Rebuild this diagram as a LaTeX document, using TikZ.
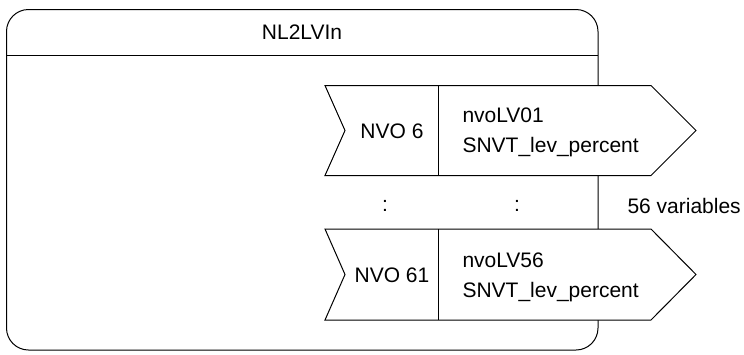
\documentclass[tikz,border=0pt]{standalone}
\usepackage{fontspec}
\setmainfont{Liberation Sans}
\usetikzlibrary{positioning}

\begin{document}
\begin{tikzpicture}
  [x=1pt,y=-1pt,line width=1pt,
   every node/.style={font=\fontsize{21}{25}\selectfont,inner sep=0pt},
   nvo/.style={draw=black,fill=white,line join=miter}]
  \useasboundingbox (0,0) rectangle (744,354);

  % function block
  \draw[rounded corners=22] (6.5,350) -- (6.5,9.5) -- (598,9.5) -- (598,350) -- cycle;
  \draw (6.5,55) -- (598,55);
  \node (blk) at (302,32) {NL2LVIn};

  % first output
  \draw[nvo] (325,85.5) -- (651,85.5) -- (696,130.5) -- (651,175.5) -- (325,175.5) -- (345,130.5) -- cycle;
  \draw (438,85.5) -- (438,175.5);
  \node (idx1) at (392,131) {NVO 6};
  \node[anchor=base west] (var1) at (462,122.5) {nvoLV01};
  \node[anchor=base west] (typ1) at (462,152.5) {SNVT\_lev\_percent};

  % dots
  \node (dotl) at (385,206) {:};
  \node (dotr) at (517,206) {:};
  \node[anchor=west] (cnt) at (627,206) {56 variables};

  % last output
  \draw[nvo] (325,229) -- (651,229) -- (696,274.5) -- (651,320) -- (325,320) -- (345,274.5) -- cycle;
  \draw (438,229) -- (438,320);
  \node (idx2) at (392,275) {NVO 61};
  \node[anchor=base west] (var2) at (462,267) {nvoLV56};
  \node[anchor=base west] (typ2) at (462,297) {SNVT\_lev\_percent};
\end{tikzpicture}
\end{document}
